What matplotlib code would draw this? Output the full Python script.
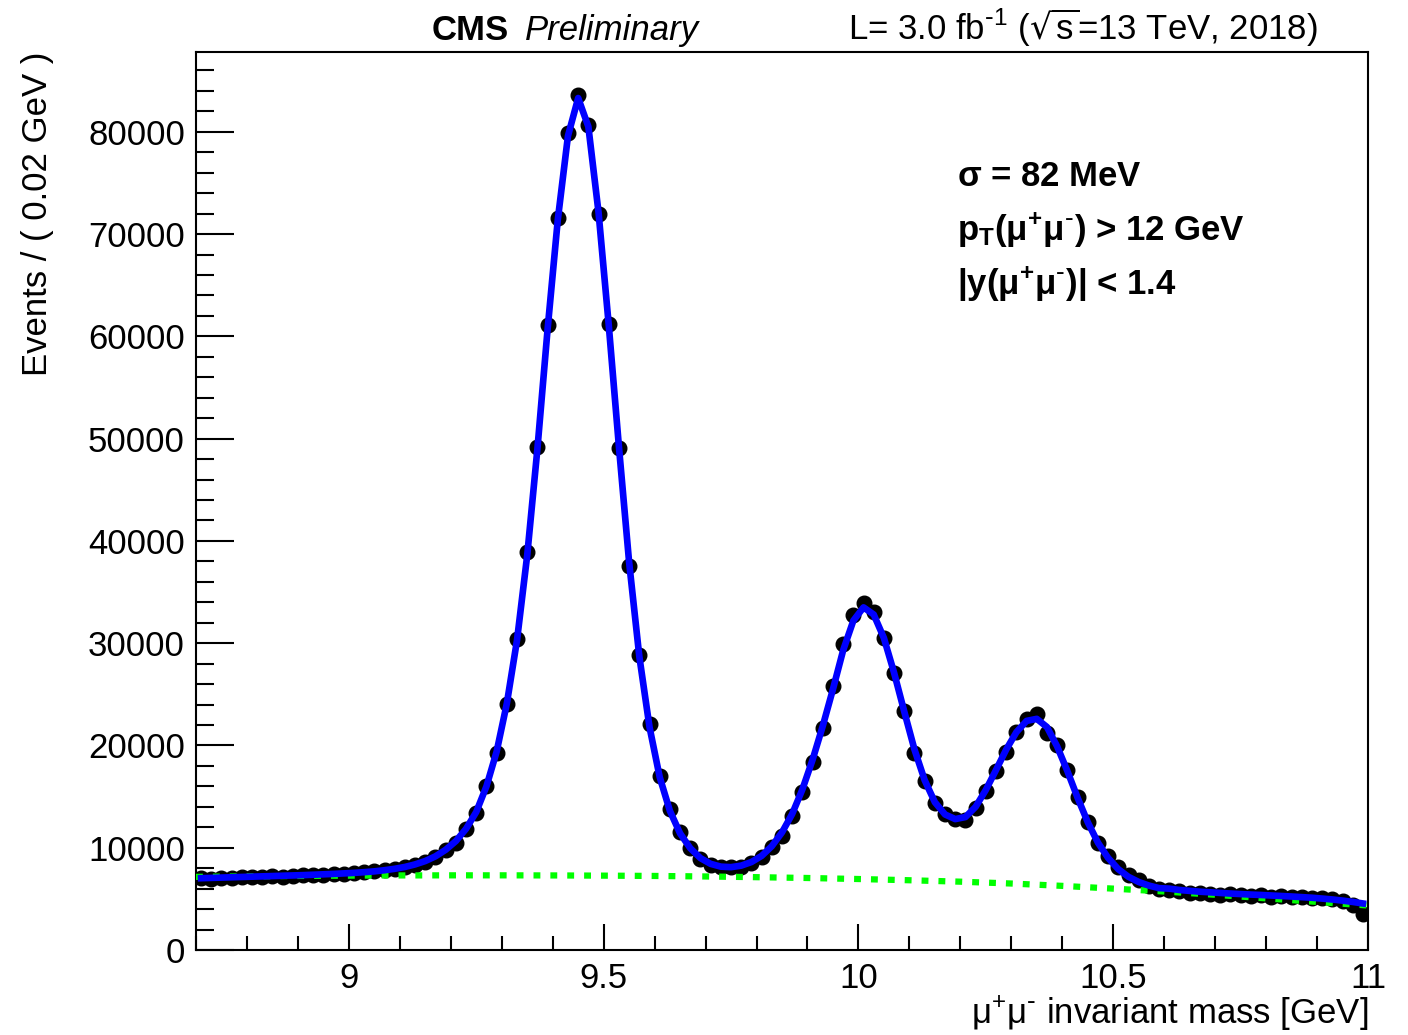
import numpy as np
import matplotlib
matplotlib.use("Agg")
import matplotlib.pyplot as plt
from matplotlib.ticker import MultipleLocator

plt.rcParams['font.family'] = ['Liberation Sans', 'DejaVu Sans']
plt.rcParams['mathtext.default'] = 'regular'

# binning: 0.02 GeV bins from 8.70 to 11.00
bin_lo = 8.70
bin_w = 0.02

# events per bin
events = [
    7000, 6950, 7000, 7050, 7100, 7100, 7150, 7200, 7150, 7250,
    7300, 7350, 7350, 7400, 7450, 7500, 7600, 7700, 7800, 7950,
    8150, 8350, 8650, 9100, 9800, 10450, 11800, 13370, 16040, 19240,
    24060, 30390, 38890, 49160, 61120, 71560, 79870, 83550, 80650, 71950,
    61190, 49070, 37550, 28800, 22100, 17050, 13790, 11570, 10010, 8870,
    8310, 8090, 8090, 8150, 8480, 9130, 10100, 11180, 13100, 15480,
    18420, 21740, 25820, 29930, 32760, 33900, 33020, 30480, 27060, 23370,
    19300, 16530, 14410, 13270, 12830, 12710, 13860, 15550, 17510, 19390,
    21290, 22560, 23050, 21250, 20050, 17600, 14930, 12550, 10490, 9200,
    8100, 7330, 6850, 6300, 5950, 5850, 5800, 5600, 5550, 5500,
    5400, 5450, 5350, 5300, 5350, 5200, 5250, 5150, 5200, 5050,
    5100, 4950, 4800, 4400, 3550,
]

# total fit at the bin centres
fit_total = [
    7020, 7050, 7080, 7110, 7140, 7170, 7200, 7230, 7260, 7290,
    7320, 7360, 7400, 7440, 7490, 7540, 7610, 7690, 7800, 7940,
    8120, 8370, 8700, 9160, 9800, 10650, 11850, 13500, 16000, 19400,
    24100, 30300, 38600, 49000, 60700, 71400, 79600, 83300, 80500, 72100,
    61100, 49200, 37900, 28700, 21800, 16900, 13600, 11400, 9950, 8980,
    8420, 8150, 8100, 8250, 8600, 9200, 10150, 11500, 13300, 15700,
    18600, 21900, 25500, 29300, 32200, 33500, 32800, 30500, 27100, 23300,
    19600, 16600, 14450, 13250, 12800, 13000, 14000, 15650, 17600, 19600,
    21300, 22400, 22600, 21800, 19900, 17500, 14900, 12500, 10500, 9000,
    7900, 7150, 6650, 6300, 6050, 6000, 5870, 5780, 5700, 5640,
    5580, 5520, 5470, 5420, 5380, 5330, 5280, 5230, 5170, 5110,
    5030, 4940, 4830, 4700, 4550,
]

# background component
bkg_mass = [8.7, 8.8, 8.9, 9.0, 9.1, 9.2, 9.3, 9.4, 9.5, 9.6, 9.7, 9.8,
            9.9, 10.0, 10.1, 10.2, 10.3, 10.4, 10.5, 10.6, 10.7, 10.8, 10.9, 11.0]
bkg_vals = [7150, 7200, 7240, 7270, 7290, 7300, 7300, 7290, 7270, 7240, 7190, 7120,
            7040, 6940, 6820, 6680, 6500, 6270, 6000, 5720, 5400, 5050, 4700, 4350]

n = len(events)
mass = bin_lo + bin_w * (np.arange(n) + 0.5)

FS = 25
mumu = r'$\mu^{+}\mu^{\text{-}}$'

fig = plt.figure(figsize=(14.08, 10.35), dpi=100)
ax = fig.add_axes([196/1408, 1 - 950/1035, 1172/1408, 898/1035])

ax.plot(mass, events, 'o', color='black', markersize=10.5, zorder=2)
ax.plot(bkg_mass, bkg_vals, color='#00ff00', lw=4.5, dashes=(1.1, 1.6),
        dash_capstyle='butt', zorder=3)
ax.plot(mass, fit_total, color='#0000ff', lw=4.8, zorder=4)

ax.set_xlim(8.7, 11.0)
ax.set_ylim(0, 87800)

ax.xaxis.set_major_locator(MultipleLocator(0.5))
ax.xaxis.set_minor_locator(MultipleLocator(0.1))
ax.yaxis.set_major_locator(MultipleLocator(10000))
ax.yaxis.set_minor_locator(MultipleLocator(2000))
ax.xaxis.set_major_formatter(plt.FuncFormatter(lambda v, p: '%g' % v))

ax.tick_params(which='both', direction='in', top=False, right=False,
               labelsize=FS, width=1.5)
ax.tick_params(axis='y', which='major', length=27, pad=8)
ax.tick_params(axis='y', which='minor', length=13)
ax.tick_params(axis='x', which='major', length=19, pad=9)
ax.tick_params(axis='x', which='minor', length=10)
for s in ax.spines.values():
    s.set_linewidth(1.5)

ax.set_ylabel('Events / ( 0.02 GeV )', fontsize=FS, loc='top')
ax.yaxis.set_label_coords(-0.121, 1.0)
ax.set_xlabel(mumu + ' invariant mass [GeV]', fontsize=FS, loc='right')
ax.xaxis.set_label_coords(1.0, -0.050)

# header
fig.text(432/1408, 1 - 40/1035, 'CMS', fontsize=FS, fontweight='bold')
fig.text(525/1408, 1 - 40/1035, 'Preliminary', fontsize=FS, style='italic')
fig.text(1318/1408, 1 - 40/1035,
         r'L= 3.0 fb$^{\text{-}1}$ ($\sqrt{s}$=13 TeV, 2018)',
         fontsize=FS, ha='right')

# selection box
fig.text(957/1408, 1 - 186/1035, r'$\sigma$ = 82 MeV', fontsize=FS, fontweight='bold')
fig.text(957/1408, 1 - 240/1035, r'p$_{T}$' + '(' + mumu + ') > 12 GeV',
         fontsize=FS, fontweight='bold')
fig.text(957/1408, 1 - 294/1035, '|y(' + mumu + ')| < 1.4',
         fontsize=FS, fontweight='bold')

fig.savefig('out.png', dpi=100)
